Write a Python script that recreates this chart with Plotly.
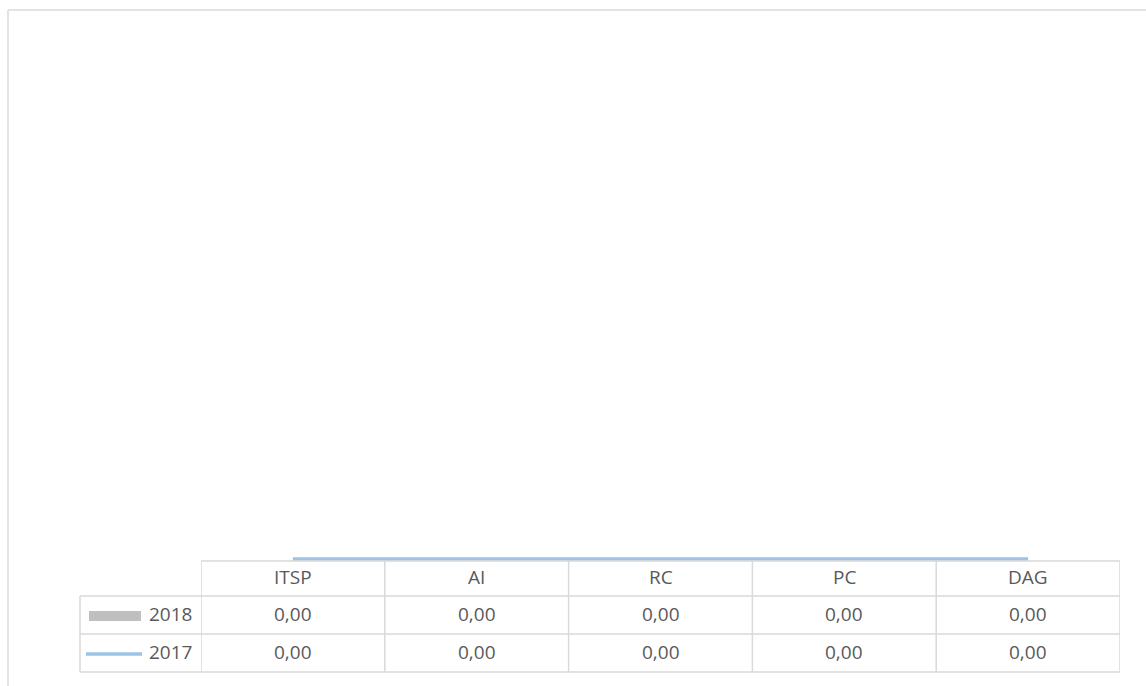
import plotly.graph_objects as go

# Categories and series values
categories = ["ITSP", "AI", "RC", "PC", "DAG"]
series_2018 = [0.0, 0.0, 0.0, 0.0, 0.0]
series_2017 = [0.0, 0.0, 0.0, 0.0, 0.0]
series_names = ["2018", "2017"]

W, H = 1146, 686
ML, MR, MT, MB = 201, 26, 20, 124
PW, PH = W - ML - MR, H - MT - MB

TEXT = "#595959"
GRID = "#d9d9d9"
GRAY = "#bfbfbf"
BLUE = "#9dc3e6"
FONT = "Open Sans"


def px(x):
    return (x - ML) / PW


def py(y):
    return (H - MB - y) / PH


def fmt(v):
    return f"{v:.2f}".replace(".", ",")


fig = go.Figure()
fig.add_trace(go.Bar(x=categories, y=series_2018, name=series_names[0],
                     marker=dict(color=GRAY, line=dict(width=0)), showlegend=False))
fig.add_trace(go.Scatter(x=categories, y=series_2017, name=series_names[1],
                         mode="lines", line=dict(color=BLUE, width=3.5),
                         showlegend=False, cliponaxis=False))

shapes = []
line = dict(color=GRID, width=1.5)
# outer chart frame
shapes.append(dict(type="line", xref="paper", yref="paper", x0=px(8), x1=px(W + 5),
                   y0=py(10), y1=py(10), line=dict(color="#e3e3e3", width=2)))
shapes.append(dict(type="line", xref="paper", yref="paper", x0=px(8), x1=px(8),
                   y0=py(10), y1=py(H + 5), line=dict(color="#e3e3e3", width=2)))

# data table grid
row_tops = [561, 596, 634, 672]
shapes.append(dict(type="line", xref="paper", yref="paper", x0=px(201), x1=px(1120),
                   y0=py(row_tops[0]), y1=py(row_tops[0]), line=line))
for yy in row_tops[1:]:
    shapes.append(dict(type="line", xref="paper", yref="paper", x0=px(80), x1=px(1120),
                       y0=py(yy), y1=py(yy), line=line))
shapes.append(dict(type="line", xref="paper", yref="paper", x0=px(80), x1=px(80),
                   y0=py(596), y1=py(672), line=line))
for i in range(len(categories) + 1):
    shapes.append(dict(type="line", xref="x", yref="paper", x0=i - 0.5, x1=i - 0.5,
                       y0=py(561), y1=py(672), line=line))

# legend keys in the row headers
shapes.append(dict(type="rect", xref="paper", yref="paper", x0=px(89), x1=px(141),
                   y0=py(621), y1=py(611), fillcolor=GRAY, line=dict(width=0)))
shapes.append(dict(type="line", xref="paper", yref="paper", x0=px(86), x1=px(142),
                   y0=py(654), y1=py(654), line=dict(color=BLUE, width=3.5)))

annotations = []
tf = dict(family=FONT, size=19, color=TEXT)
for i, c in enumerate(categories):
    annotations.append(dict(x=i, y=py(577), xref="x", yref="paper", text=c,
                            showarrow=False, font=tf, xanchor="center", yanchor="middle"))
    annotations.append(dict(x=i, y=py(614), xref="x", yref="paper", text=fmt(series_2018[i]),
                            showarrow=False, font=tf, xanchor="center", yanchor="middle"))
    annotations.append(dict(x=i, y=py(652), xref="x", yref="paper", text=fmt(series_2017[i]),
                            showarrow=False, font=tf, xanchor="center", yanchor="middle"))
for name, yy in zip(series_names, [614, 652]):
    annotations.append(dict(x=px(194), y=py(yy), xref="paper", yref="paper", text=name,
                            showarrow=False, font=tf, xanchor="right", yanchor="middle"))

fig.update_layout(
    width=W, height=H,
    margin=dict(l=ML, r=MR, t=MT, b=MB),
    paper_bgcolor="white", plot_bgcolor="white",
    xaxis=dict(range=[-0.5, 4.5], visible=False, showgrid=False, zeroline=False,
               categoryorder="array", categoryarray=categories),
    yaxis=dict(range=[-0.0055, 1], visible=False, showgrid=False, zeroline=False),
    shapes=shapes, annotations=annotations,
    font=dict(family=FONT, color=TEXT),
)

fig.write_html("out.html")
